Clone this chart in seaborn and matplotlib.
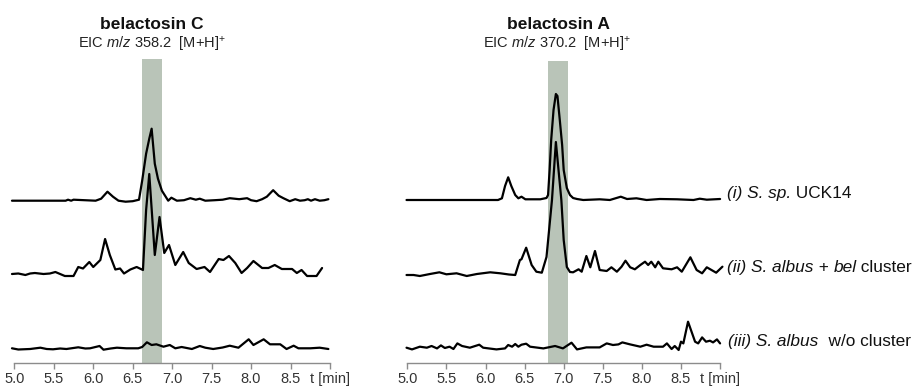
import numpy as np
import pandas as pd
import matplotlib
matplotlib.use("Agg")
import matplotlib.pyplot as plt
import seaborn as sns

sns.set_style("white")
plt.rcParams['font.family'] = ['Liberation Sans', 'DejaVu Sans']
plt.rcParams['mathtext.fontset'] = 'custom'
plt.rcParams['mathtext.rm'] = 'Liberation Sans'
plt.rcParams['mathtext.it'] = 'Liberation Sans:italic'
plt.rcParams['mathtext.bf'] = 'Liberation Sans:bold'

# ---- data (time in min, intensity in arbitrary units) ----
# belactosin C, EIC m/z 358.2
c_t_i = [4.97, 5.65, 5.68, 5.72, 5.75, 6.03, 6.10, 6.18, 6.25, 6.32, 6.41, 6.50, 6.58, 6.62,
         6.67, 6.71, 6.74, 6.78, 6.82, 6.87, 6.95, 6.99, 7.06, 7.15, 7.23, 7.30, 7.35, 7.42,
         7.54, 7.64, 7.73, 7.85, 7.95, 8.00, 8.07, 8.14, 8.20, 8.28, 8.35, 8.41, 8.49, 8.56,
         8.62, 8.68, 8.72, 8.76, 8.81, 8.87, 8.93, 8.98]
c_h_i = [0, 0, 1, 0, 1, 0, 2, 9, 4, 0, -1, -0.5, 1, 20,
         47, 62, 72, 37, 22, 10, 0, 3, 0, 0.5, 2.5, 1, 2, 0,
         0.5, 1, 2.5, 1.5, 2.5, 0.5, -0.5, 1.5, 4, 10.5, 5, 2.5, -0.5, 1.5,
         0, 0.5, 1.5, 0, 1.5, 0, 0.5, 1.5]

c_t_ii = [4.97, 5.05, 5.14, 5.20, 5.26, 5.37, 5.45, 5.52, 5.58, 5.64, 5.75, 5.81, 5.87, 5.95,
          6.00, 6.09, 6.15, 6.21, 6.28, 6.34, 6.39, 6.47, 6.55, 6.63, 6.67, 6.71, 6.78, 6.84,
          6.90, 6.96, 7.04, 7.14, 7.21, 7.31, 7.41, 7.48, 7.59, 7.65, 7.72, 7.80, 7.88, 7.95,
          8.03, 8.14, 8.22, 8.30, 8.39, 8.52, 8.58, 8.64, 8.71, 8.83, 8.90]
c_h_ii = [0, 0.5, -1, 0.5, 1, 0, 0.5, 2, 0, -2, -2, 7, 5.5, 12,
          7, 14, 35, 19, 4.5, 5.5, 0.5, 4.5, 7, 4, 64, 100, 19, 57,
          21, 29, 9, 22, 11, 5, 7, 2, 15, 14, 18, 11, 1, 6,
          13, 6, 6, 9, 5, 5, 1, 4, -2, -2, 6]

c_t_iii = [4.97, 5.05, 5.20, 5.33, 5.41, 5.49, 5.58, 5.66, 5.81, 5.90, 5.96, 6.08, 6.13, 6.22,
           6.30, 6.42, 6.57, 6.62, 6.68, 6.74, 6.80, 6.89, 6.97, 7.04, 7.12, 7.25, 7.35, 7.42,
           7.52, 7.64, 7.73, 7.84, 7.97, 8.03, 8.16, 8.24, 8.37, 8.45, 8.54, 8.60, 8.75, 8.87, 8.98]
c_h_iii = [0.7, -0.5, 0, 1.3, 0, -0.3, 0.5, 0, 1.7, 0.5, 0.7, 3, -0.7, 0.5,
           1.3, 0.7, 0.7, 2, 6.7, 4, 4.7, 2.3, 4, 0.7, 2, 0, 3, 1.3,
           0, 1.5, 3.3, 1.3, 9.7, 4, 9.7, 4.7, 4.7, 0, 3.3, 0.7, 0.7, 1.3, 0]

# belactosin A, EIC m/z 370.2
a_t_i = [4.99, 6.16, 6.21, 6.25, 6.29, 6.33, 6.38, 6.42, 6.46, 6.51, 6.70, 6.78, 6.80, 6.82,
         6.84, 6.87, 6.90, 6.92, 6.95, 6.98, 7.00, 7.04, 7.08, 7.12, 7.17, 7.25, 7.46, 7.59,
         7.73, 7.81, 7.93, 8.06, 8.23, 8.45, 8.66, 8.74, 8.83, 9.00]
a_h_i = [0, 0, 1.7, 14, 22.7, 14, 5, 1.7, 3.3, 0.7, 0.7, 2, 5, 30,
         60, 90, 106, 104, 80, 55, 30, 12, 5, 2, 1, 0, 0.7, 0,
         3.3, 1, 1.7, 0, 1, 0.7, 0, 1.3, 0.3, 1]

a_t_ii = [4.99, 5.08, 5.16, 5.29, 5.41, 5.50, 5.63, 5.76, 5.89, 6.06, 6.19, 6.30, 6.38, 6.44,
          6.46, 6.52, 6.59, 6.65, 6.72, 6.78, 6.85, 6.90, 6.97, 7.00, 7.04, 7.08, 7.12, 7.19,
          7.23, 7.29, 7.34, 7.40, 7.46, 7.55, 7.61, 7.68, 7.74, 7.79, 7.85, 7.91, 7.98, 8.04,
          8.08, 8.12, 8.17, 8.21, 8.27, 8.38, 8.45, 8.51, 8.62, 8.70, 8.77, 8.83, 8.89, 8.95, 9.03]
a_h_ii = [0, 0, -1, 1, 2.7, 0.7, 1.7, -1, 1, 2.7, 1.7, 0.5, 0, 15,
          15.7, 27.3, 10, 3.3, 2.3, 18, 75, 133, 75, 35, 8, 3, 2.7, 5.7,
          3.3, 19, 7.7, 24, 5, 4, 7.7, 3.3, 8.3, 14.3, 7.7, 5.7, 10, 13.3,
          10, 13.3, 7.7, 13.3, 6.7, 5.7, 7.7, 3.3, 17.7, 5, 1.7, 7.7, 5, 2.3, 8.3]

a_t_iii = [4.99, 5.06, 5.16, 5.25, 5.31, 5.38, 5.43, 5.48, 5.54, 5.59, 5.64, 5.70, 5.80, 5.92,
           5.97, 6.14, 6.25, 6.29, 6.34, 6.38, 6.42, 6.46, 6.52, 6.57, 6.74, 6.89, 6.99, 7.10,
           7.17, 7.29, 7.46, 7.55, 7.63, 7.70, 7.75, 7.85, 7.98, 8.06, 8.15, 8.27, 8.32, 8.38,
           8.42, 8.47, 8.50, 8.53, 8.59, 8.68, 8.72, 8.77, 8.82, 8.87, 8.91, 8.96, 9.00]
a_h_iii = [0, -1.7, 1, 0, 1.7, -0.7, 2.3, -0.3, 1, -1.3, 4.3, 1.7, 0, 3,
           0, -1.7, -0.7, 2.7, 1, 3.7, 1, 3, 4, 1, -0.7, 1.7, -0.7, 5,
           -1.7, 0.3, 0.3, 4.3, 2.7, 3.3, 5.3, 3.3, 1, 3, 1, 1, 4.3, -1.3,
           1.7, -2.3, 6, 4.3, 26, 6, 4.3, 10.3, 6, 7, 5.3, 8.3, 4.3]

band_c = (6.62, 6.87)
band_a = (6.80, 7.05)

tick_pos = [5.0, 5.5, 6.0, 6.5, 7.0, 7.5, 8.0, 8.5, 9.0]
tick_lab = ['5.0', '5.5', '6.0', '6.5', '7.0', '7.5', '8.0', '8.5', 't [min]']

# sample labels as (text, italic?) pieces
labels = [[('(i) S. sp.', True), (' UCK14', False)],
          [('(ii) S. albus', True), (' + ', False), ('bel', True), (' cluster', False)],
          [('(iii) S. albus', True), ('  w/o cluster', False)]]

# ---- figure ----
W, H = 917, 387
fig = plt.figure(figsize=(W / 100, H / 100), dpi=100)

y_top = 307
ax_c = fig.add_axes([10.4 / W, (H - 362.5) / H, 323.5 / W, y_top / H])
ax_a = fig.add_axes([403.4 / W, (H - 362.5) / H, 320.6 / W, y_top / H])

traces_c = [(c_t_i, c_h_i), (c_t_ii, c_h_ii), (c_t_iii, c_h_iii)]
traces_a = [(a_t_i, a_h_i), (a_t_ii, a_h_ii), (a_t_iii, a_h_iii)]
offsets_c = [161.8, 88.5, 13.5]
offsets_a = [162.5, 87.5, 14.8]

for ax, traces, offs, band, btop in [(ax_c, traces_c, offsets_c, band_c, 303.5),
                                     (ax_a, traces_a, offsets_a, band_a, 301.8)]:
    ax.axvspan(band[0], band[1], ymin=0, ymax=btop / y_top, color='#b9c4b8', lw=0, zorder=0)
    for (t, h), off in zip(traces, offs):
        df = pd.DataFrame({'t': t, 'y': np.asarray(h, dtype=float) + off})
        sns.lineplot(data=df, x='t', y='y', ax=ax, color='black', lw=1.6,
                     sort=False, estimator=None, clip_on=False, zorder=3)
    ax.set_xlim(4.95, 9.05)
    ax.set_ylim(0, y_top)
    for s in ['left', 'right', 'top']:
        ax.spines[s].set_visible(False)
    ax.spines['bottom'].set_bounds(5.0, 9.0)
    ax.spines['bottom'].set_color('#8c8c8c')
    ax.spines['bottom'].set_linewidth(1.0)
    ax.set_xticks(tick_pos)
    ax.set_xticklabels(tick_lab)
    ax.set_yticks([])
    ax.tick_params(axis='x', direction='out', length=4, width=1.0, color='#8c8c8c',
                   labelsize=10.5, labelcolor='#333333', pad=2.5, bottom=True)
    ax.set_xlabel('')
    ax.set_ylabel('')
    ax.patch.set_alpha(0)

# titles
fig.text(152 / W, 1 - 29.3 / H, 'belactosin C', ha='center', va='baseline',
         fontsize=12.5, fontweight='bold', color='#111111')
fig.text(152 / W, 1 - 49 / H, r'EIC $\it{m/z}$ 358.2  [M+H]$^{+}$', ha='center', va='baseline',
         fontsize=10.5, color='#222222')
fig.text(558 / W, 1 - 29.3 / H, 'belactosin A', ha='center', va='baseline',
         fontsize=12.5, fontweight='bold', color='#111111')
fig.text(557 / W, 1 - 49 / H, r'EIC $\it{m/z}$ 370.2  [M+H]$^{+}$', ha='center', va='baseline',
         fontsize=10.5, color='#222222')

# sample labels on the right, written piece by piece
renderer = fig.canvas.get_renderer()
label_px = [(726.7, 198.3), (727.3, 271.7), (728.3, 346.0)]
for pieces, (px, py) in zip(labels, label_px):
    x = px
    for s, ital in pieces:
        txt = fig.text(x / W, 1 - py / H, s, ha='left', va='baseline', fontsize=12.4,
                       style='italic' if ital else 'normal', color='#111111')
        x += txt.get_window_extent(renderer).width

fig.savefig('out.png', dpi=100)
